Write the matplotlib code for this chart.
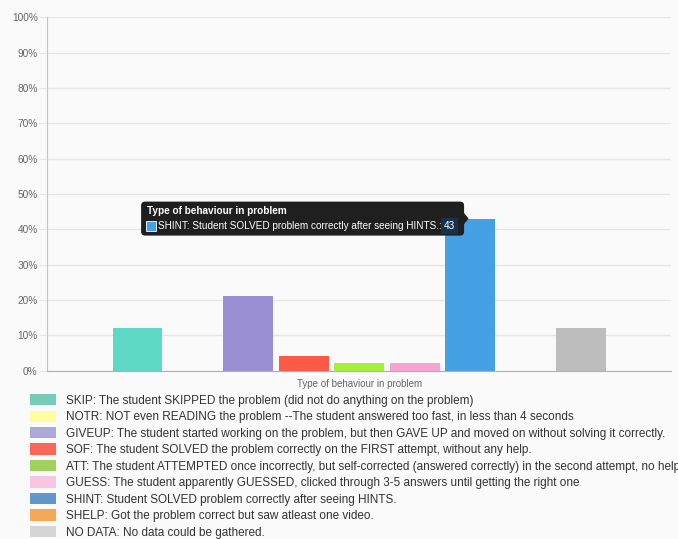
import matplotlib

matplotlib.use("Agg")
import matplotlib.pyplot as plt
import matplotlib.transforms as mtransforms
from matplotlib.patches import FancyBboxPatch, Patch, Polygon, Rectangle

plt.rcParams["font.family"] = ["Liberation Sans", "DejaVu Sans"]

# one category, nine datasets (Chart.js style grouped bars)
codes = ["SKIP", "NOTR", "GIVEUP", "SOF", "ATT", "GUESS", "SHINT", "SHELP", "NO DATA"]
descriptions = [
    "SKIP: The student SKIPPED the problem (did not do anything on the problem)",
    "NOTR: NOT even READING the problem --The student answered too fast, in less than 4 seconds",
    "GIVEUP: The student started working on the problem, but then GAVE UP and moved on without solving it correctly.",
    "SOF: The student SOLVED the problem correctly on the FIRST attempt, without any help.",
    "ATT: The student ATTEMPTED once incorrectly, but self-corrected (answered correctly) in the second attempt, no help.",
    "GUESS: The student apparently GUESSED, clicked through 3-5 answers until getting the right one",
    "SHINT: Student SOLVED problem correctly after seeing HINTS.",
    "SHELP: Got the problem correct but saw atleast one video.",
    "NO DATA: No data could be gathered.",
]
percentages = [12, 0, 21, 4, 2, 2, 43, 0, 12]
bar_colors = ["#5dd9c5", "#ffff99", "#9b8fd3", "#fc5946", "#a6ef3a",
              "#f8a4d2", "#46a0e4", "#ffa94d", "#bdbdbd"]
legend_colors = ["#78cbb8", "#fffe9e", "#aba9d7", "#f7675a", "#9fd35d",
                 "#f7c6e1", "#6097cc", "#f5a857", "#d5d5d5"]
y_ticks = [0, 10, 20, 30, 40, 50, 60, 70, 80, 90, 100]
axis_title = "Type of behaviour in problem"
tooltip_index = 6

BG = "#fafafa"
GRID = "#e6e6e6"
TEXT = "#666666"

fig = plt.figure(figsize=(6.78, 5.39), dpi=100, facecolor=BG)
ax = fig.add_axes([0.070, 0.3126, 0.9197, 0.6554], facecolor=BG)

n = len(percentages)
slot = 0.8 / n
xs = [0.5 + (i - (n - 1) / 2) * slot for i in range(n)]
ax.bar(xs, percentages, width=slot * 0.9, color=bar_colors, zorder=2)

ax.set_xlim(0, 1)
ax.set_ylim(0, 100)
ax.set_yticks(y_ticks)
ax.set_yticklabels([f"{t}%" for t in y_ticks])
ax.set_xticks([])
ax.grid(axis="y", color=GRID, linewidth=1, zorder=0)
ax.tick_params(axis="y", length=6, color=GRID, labelcolor=TEXT, labelsize=7.3, pad=1)
for side in ("top", "right"):
    ax.spines[side].set_visible(False)
ax.spines["left"].set_color("#c4c4c4")
ax.spines["bottom"].set_color("#b0b0b0")
ax.set_xlabel(axis_title, color=TEXT, fontsize=7, labelpad=6)

# legend below the chart (the long ATT line runs past the right edge, as in the source)
handles = [Patch(facecolor=c, edgecolor="none") for c in legend_colors]
fig.legend(handles, descriptions, loc="upper left", bbox_to_anchor=(0.044, 0.269),
           frameon=False, fontsize=8.45, handlelength=2.2, handleheight=1.1,
           handletextpad=0.85, labelspacing=0.33, borderpad=0, borderaxespad=0,
           labelcolor="#333333")

# hover tooltip on the SHINT bar
anchor = fig.dpi_scale_trans + mtransforms.ScaledTranslation(
    xs[tooltip_index], percentages[tooltip_index], ax.transData)
box_w, box_h, caret = 3.23, 0.34, 0.06
left = -caret - box_w
ax.add_artist(FancyBboxPatch((left, -box_h / 2), box_w, box_h,
                             boxstyle="round,pad=0,rounding_size=0.04",
                             transform=anchor, facecolor="#1f1f1f", edgecolor="none",
                             zorder=5, clip_on=False))
ax.add_artist(Polygon([(-caret - 0.005, 0.06), (-0.015, 0.0), (-caret - 0.005, -0.06)],
                      closed=True, transform=anchor, facecolor="#1f1f1f",
                      edgecolor="none", zorder=5, clip_on=False))
ax.text(left + 0.06, 0.075, axis_title, transform=anchor, color="white",
        fontsize=7.2, fontweight="bold", va="center", ha="left", zorder=6)
ax.add_artist(Rectangle((left + 0.05, -0.125), 0.10, 0.10, transform=anchor,
                        facecolor=bar_colors[tooltip_index], edgecolor="white",
                        linewidth=0.6, zorder=6, clip_on=False))
label = ax.text(left + 0.165, -0.075, descriptions[tooltip_index] + ": ",
                transform=anchor, color="white", fontsize=7.2, va="center",
                ha="left", zorder=6)
ax.annotate(str(percentages[tooltip_index]), xy=(1, 0.5), xycoords=label,
            va="center", ha="left", color="white", fontsize=7.2, zorder=6,
            bbox=dict(boxstyle="square,pad=0.3", facecolor="#16324d", edgecolor="none"))

fig.savefig("out.png", dpi=100, facecolor=BG)
